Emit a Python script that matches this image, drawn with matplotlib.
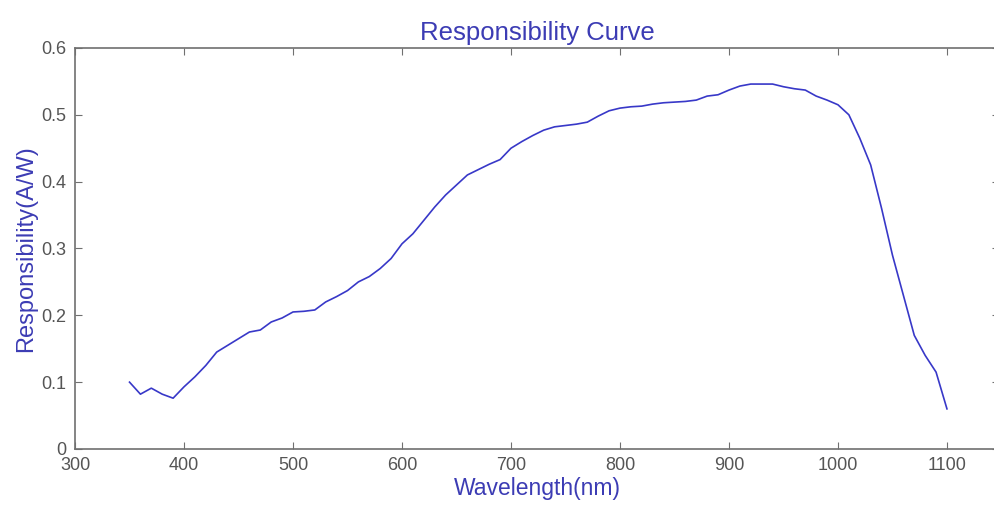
import numpy as np
import matplotlib.pyplot as plt

plt.rcParams['font.family'] = ['Liberation Sans', 'DejaVu Sans']

wavelength = list(range(350, 1101, 10))
responsibility = [
    0.100, 0.082, 0.091, 0.082, 0.076, 0.093, 0.108, 0.125, 0.145, 0.155,
    0.165, 0.175, 0.178, 0.190, 0.196, 0.205, 0.206, 0.208, 0.220, 0.228,
    0.237, 0.250, 0.258, 0.270, 0.285, 0.307, 0.322, 0.342, 0.362, 0.380,
    0.395, 0.410, 0.418, 0.426, 0.433, 0.450, 0.460, 0.469, 0.477, 0.482,
    0.484, 0.486, 0.489, 0.498, 0.506, 0.510, 0.512, 0.513, 0.516, 0.518,
    0.519, 0.520, 0.522, 0.528, 0.530, 0.537, 0.543, 0.546, 0.546, 0.546,
    0.542, 0.539, 0.537, 0.528, 0.522, 0.515, 0.500, 0.465, 0.425, 0.360,
    0.290, 0.230, 0.170, 0.140, 0.115, 0.060,
]
xticks = [300, 400, 500, 600, 700, 800, 900, 1000, 1100]
yticks = [0, 0.1, 0.2, 0.3, 0.4, 0.5, 0.6]

line_col = '#3838c8'
text_col = '#3c3cb4'
axis_col = '#707070'

fig = plt.figure(figsize=(9.95, 5.13), dpi=100)
# right spine sits just past the image edge, as in the reference
ax = fig.add_axes([0.0754, 0.1248, 0.9289, 0.7817])
ax.plot(wavelength, responsibility, color=line_col, linewidth=1.2)

ax.set_xlim(300, 1148)
ax.set_ylim(0, 0.6)
ax.set_xticks(xticks)
ax.set_yticks(yticks)
ax.set_yticklabels(['0', '0.1', '0.2', '0.3', '0.4', '0.5', '0.6'])
ax.tick_params(direction='in', top=True, right=True, length=5, width=0.8,
               colors=axis_col, labelsize=13, labelcolor='#555555', pad=6)
for s in ax.spines.values():
    s.set_color(axis_col)
    s.set_linewidth(1.2)

ax.set_title('Responsibility Curve', color=text_col, fontsize=18.5, pad=6)
ax.set_xlabel('Wavelength(nm)', color=text_col, fontsize=16.5, labelpad=2)
ax.set_ylabel('Responsibility(A/W)', color=text_col, fontsize=17, labelpad=3)

fig.savefig('out.png', dpi=100)
